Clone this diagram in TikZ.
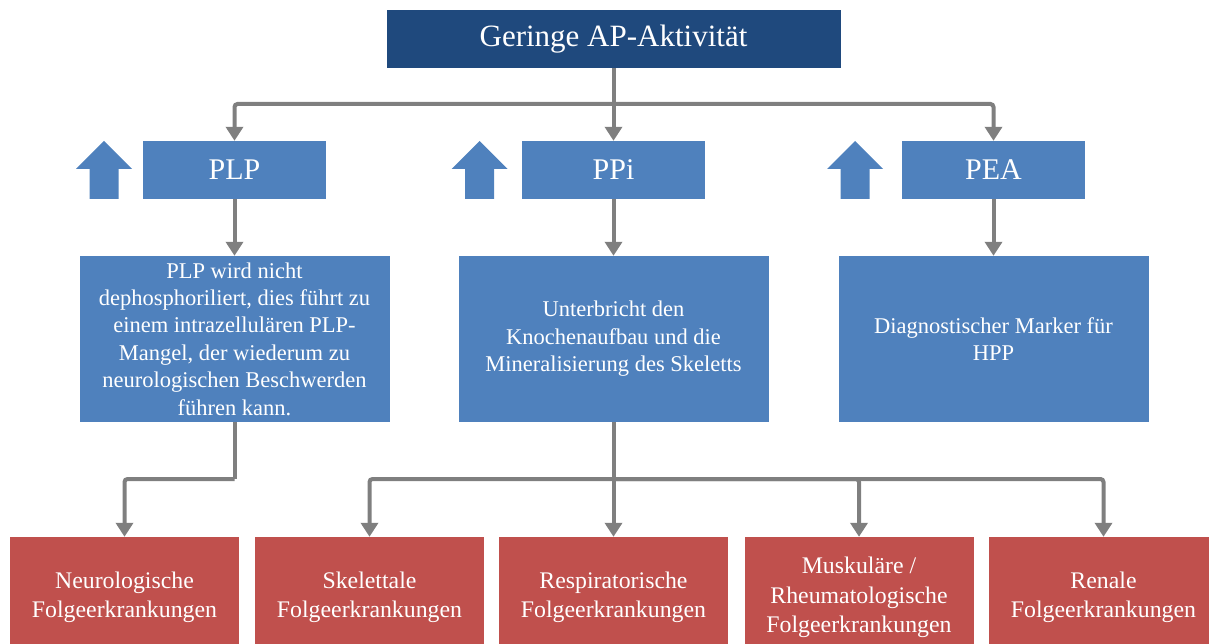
\documentclass[tikz,border=0pt]{standalone}
\usepackage{fontspec}
\setmainfont{Liberation Serif}
\usetikzlibrary{arrows.meta}
\definecolor{darkblue}{HTML}{1F497D}
\definecolor{midblue}{HTML}{4F81BD}
\definecolor{boxred}{HTML}{C0504D}
\definecolor{conngray}{HTML}{7F7F7F}
\tikzset{
  box/.style={fill=#1, draw=none, inner sep=0pt, text=white, align=center},
  topbox/.style={box=darkblue, minimum width=454pt, minimum height=58pt, font=\fontsize{31}{36}\selectfont},
  midbox/.style={box=midblue, minimum width=183pt, minimum height=58pt, font=\fontsize{30}{35}\selectfont},
  descbox/.style={box=midblue, minimum width=310pt, minimum height=166pt, font=\fontsize{22.5}{27.4}\selectfont},
  redbox/.style={box=boxred, minimum width=229pt, minimum height=121pt, font=\fontsize{23.8}{29.5}\selectfont},
  conn/.style={draw=conngray, line width=4pt, rounded corners=3pt},
  arr/.style={conn, -{Triangle[width=17pt,length=14pt]}},
  uparrow/.pic={\fill[midblue] (0,0) -- (28,28) -- (14.5,28) -- (14.5,58) -- (-14.5,58) -- (-14.5,28) -- (-28,28) -- cycle;}
}
\begin{document}
\begin{tikzpicture}[x=1pt,y=-1pt]
\useasboundingbox (0,0) rectangle (1209,644);
\node[topbox] (top) at (613.5,39) {Geringe AP-Aktivität};
\node[midbox] (plp) at (234.5,170) {PLP};
\node[midbox] (ppi) at (613.5,170) {PPi};
\node[midbox] (pea) at (993.5,170) {PEA};
\pic at (104,141) {uparrow};
\pic at (479.5,141) {uparrow};
\pic at (855,141) {uparrow};
\node[descbox] (plpd) at (234.5,339) {PLP wird nicht\\dephosphoriliert, dies führt zu\\einem intrazellulären PLP-\\Mangel, der wiederum zu\\neurologischen Beschwerden\\führen kann.};
\node[descbox] (ppid) at (613.5,339) {Unterbricht den\\Knochenaufbau und die\\Mineralisierung des Skeletts};
\node[descbox] (pead) at (993.5,339) {Diagnostischer Marker für\\HPP};
\node[redbox] (neu) at (124.5,597.5) {Neurologische\\Folgeerkrankungen};
\node[redbox] (ske) at (369.5,597.5) {Skelettale\\Folgeerkrankungen};
\node[redbox] (res) at (613.5,597.5) {Respiratorische\\Folgeerkrankungen};
\node[redbox] (mus) at (859,597.5) {Muskuläre /\\Rheumatologische\\Folgeerkrankungen};
\node[redbox] (ren) at (1103.5,597.5) {Renale\\Folgeerkrankungen};
\coordinate (hubA) at (613.5,104);
\coordinate (hubB) at (234.5,479);
\coordinate (hubC) at (613.5,479);
\draw[arr] (top.south) -- (ppi.north);
\draw[arr] (hubA) -| (plp.north);
\draw[arr] (hubA) -| (pea.north);
\draw[arr] (plp.south) -- (plpd.north);
\draw[arr] (ppi.south) -- (ppid.north);
\draw[arr] (pea.south) -- (pead.north);
\draw[conn] (plpd.south) -- (hubB);
\draw[arr] (hubB) -| (neu.north);
\draw[arr] (ppid.south) -- (res.north);
\draw[arr] (hubC) -| (ske.north);
\draw[arr] (hubC) -| (mus.north);
\draw[arr] (hubC) -| (ren.north);
\end{tikzpicture}
\end{document}
